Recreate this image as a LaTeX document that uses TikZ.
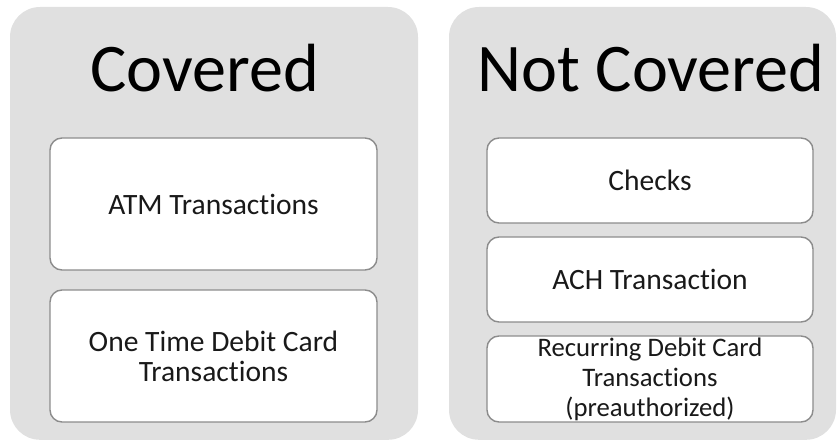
\documentclass[tikz,border=0pt]{standalone}
\usepackage{fontspec}
\setmainfont{Carlito}[Ligatures=CommonOff]
\definecolor{panelgray}{RGB}{224,224,224}
\definecolor{boxline}{RGB}{140,140,140}
\definecolor{boxtext}{RGB}{25,25,25}
\tikzset{
  panel/.style={fill=panelgray, draw=none, rounded corners=0.75cm},
  itembox/.style={fill=white, draw=boxline, line width=1pt, rounded corners=0.3cm},
  heading/.style={anchor=base, font=\fontsize{48.5}{58}\selectfont},
  itemtext/.style={align=center, text=boxtext, font=\fontsize{21}{21.3}\selectfont}
}
\begin{document}
\begin{tikzpicture}

\useasboundingbox (0,0) rectangle (21,11.025);

\draw[panel] (0.25,0.03) rectangle (10.45,10.85);
\draw[panel] (11.225,0.03) rectangle (20.9,10.85);

\node[heading] (covered) at (5.125,8.725) {Covered};
\node[heading] (notcovered) at (16.275,8.725) {Not Covered};

\draw[itembox] (1.25,7.575) rectangle (9.425,4.275);
\draw[itembox] (1.25,3.775) rectangle (9.425,0.475);

\draw[itembox] (12.175,7.575) rectangle (20.325,5.45);
\draw[itembox] (12.175,5.1) rectangle (20.325,2.975);
\draw[itembox] (12.175,2.625) rectangle (20.325,0.475);

\node[itemtext] (atm) at (5.3375,5.925) {ATM Transactions};
\node[itemtext] (onetime) at (5.3375,2.125) {One Time Debit Card\\Transactions};

\node[itemtext] (checks) at (16.25,6.5125) {Checks};
\node[itemtext] (ach) at (16.25,4.0375) {ACH Transaction};
\node[itemtext, font=\fontsize{19}{21.3}\selectfont] (recurring) at (16.25,1.55)
  {Recurring Debit Card\\Transactions\\(preauthorized)};

\end{tikzpicture}
\end{document}
